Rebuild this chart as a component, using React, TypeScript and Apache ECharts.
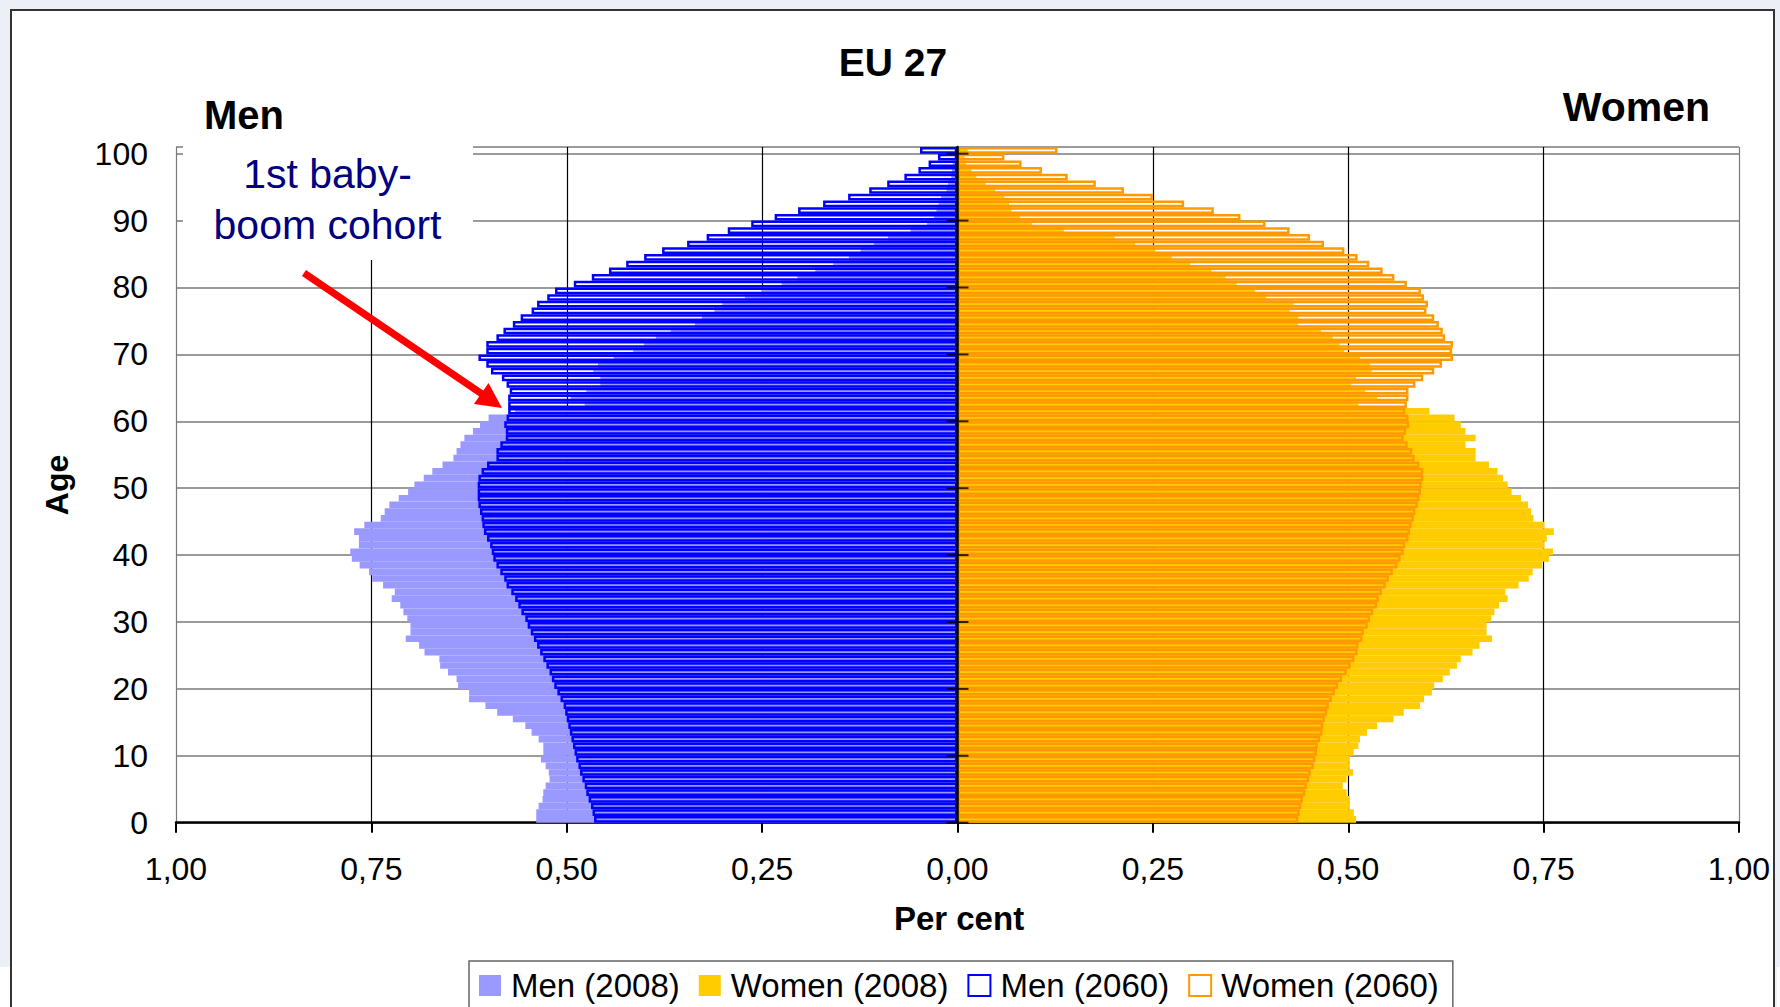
import React, { useEffect, useRef } from "react";
import * as echarts from "echarts";

// Age categories 0..100
const ages: string[] = Array.from({ length: 101 }, (_, i) => String(i));

// Share of total population (per cent), age 0 -> 100
const men2008: number[] = [
  0.539, 0.539, 0.536, 0.531, 0.530, 0.527, 0.522, 0.523, 0.527, 0.533,
  0.530, 0.530, 0.536, 0.545, 0.553, 0.569, 0.589, 0.604, 0.625, 0.625,
  0.639, 0.641, 0.652, 0.662, 0.663, 0.682, 0.689, 0.706, 0.700, 0.700,
  0.704, 0.709, 0.713, 0.724, 0.720, 0.735, 0.749, 0.753, 0.765, 0.775,
  0.777, 0.766, 0.766, 0.772, 0.759, 0.738, 0.733, 0.727, 0.715, 0.703,
  0.695, 0.683, 0.672, 0.659, 0.645, 0.641, 0.636, 0.631, 0.620, 0.611,
  0.600, 0.566, 0.477, 0.495, 0.475, 0.457, 0.457, 0.466, 0.460, 0.440,
  0.415, 0.401, 0.386, 0.367, 0.336, 0.327, 0.311, 0.301, 0.272, 0.251,
  0.225, 0.205, 0.182, 0.159, 0.139, 0.124, 0.107, 0.089, 0.060, 0.039,
  0.030, 0.027, 0.024, 0.021, 0.014, 0.012, 0.008, 0.007, 0.006, 0.004,
  0.004,
];

const women2008: number[] = [
  0.510, 0.507, 0.502, 0.502, 0.498, 0.493, 0.498, 0.506, 0.502, 0.502,
  0.507, 0.513, 0.515, 0.524, 0.537, 0.558, 0.571, 0.592, 0.597, 0.607,
  0.610, 0.621, 0.630, 0.639, 0.644, 0.659, 0.668, 0.684, 0.677, 0.677,
  0.683, 0.687, 0.693, 0.704, 0.701, 0.718, 0.731, 0.736, 0.748, 0.757,
  0.762, 0.751, 0.754, 0.763, 0.751, 0.737, 0.734, 0.730, 0.721, 0.709,
  0.704, 0.698, 0.691, 0.680, 0.663, 0.663, 0.650, 0.663, 0.650, 0.644,
  0.636, 0.604, 0.513, 0.537, 0.522, 0.504, 0.510, 0.530, 0.528, 0.515,
  0.495, 0.489, 0.480, 0.465, 0.436, 0.436, 0.425, 0.430, 0.395, 0.381,
  0.357, 0.343, 0.325, 0.298, 0.274, 0.253, 0.227, 0.201, 0.136, 0.095,
  0.080, 0.069, 0.066, 0.060, 0.048, 0.036, 0.024, 0.018, 0.011, 0.009,
  0.013,
];

const men2060: number[] = [
  0.465, 0.467, 0.469, 0.472, 0.475, 0.477, 0.480, 0.483, 0.485, 0.488,
  0.490, 0.492, 0.494, 0.496, 0.498, 0.500, 0.502, 0.504, 0.508, 0.512,
  0.516, 0.519, 0.522, 0.526, 0.530, 0.534, 0.538, 0.542, 0.546, 0.550,
  0.553, 0.558, 0.562, 0.566, 0.571, 0.577, 0.580, 0.585, 0.590, 0.594,
  0.596, 0.598, 0.602, 0.606, 0.608, 0.609, 0.611, 0.613, 0.614, 0.614,
  0.614, 0.613, 0.609, 0.602, 0.590, 0.590, 0.585, 0.578, 0.578, 0.580,
  0.577, 0.575, 0.575, 0.575, 0.573, 0.577, 0.583, 0.597, 0.603, 0.613,
  0.603, 0.603, 0.590, 0.581, 0.569, 0.559, 0.545, 0.538, 0.525, 0.515,
  0.491, 0.468, 0.446, 0.424, 0.401, 0.378, 0.346, 0.321, 0.294, 0.264,
  0.234, 0.204, 0.172, 0.140, 0.113, 0.090, 0.068, 0.050, 0.037, 0.025,
  0.048,
];

const women2060: number[] = [
  0.436, 0.438, 0.440, 0.442, 0.445, 0.447, 0.450, 0.452, 0.456, 0.458,
  0.460, 0.461, 0.464, 0.467, 0.468, 0.470, 0.473, 0.475, 0.479, 0.483,
  0.487, 0.492, 0.498, 0.503, 0.508, 0.512, 0.513, 0.518, 0.520, 0.525,
  0.528, 0.532, 0.537, 0.539, 0.543, 0.548, 0.552, 0.557, 0.563, 0.567,
  0.571, 0.573, 0.577, 0.579, 0.581, 0.584, 0.586, 0.589, 0.591, 0.593,
  0.594, 0.596, 0.596, 0.591, 0.585, 0.582, 0.576, 0.571, 0.574, 0.578,
  0.577, 0.573, 0.575, 0.577, 0.577, 0.586, 0.596, 0.610, 0.620, 0.634,
  0.633, 0.634, 0.624, 0.621, 0.616, 0.610, 0.600, 0.602, 0.597, 0.593,
  0.575, 0.559, 0.544, 0.527, 0.512, 0.495, 0.469, 0.451, 0.425, 0.394,
  0.362, 0.328, 0.290, 0.250, 0.213, 0.177, 0.141, 0.108, 0.082, 0.060,
  0.128,
];

const ageTicks: number[] = [0, 10, 20, 30, 40, 50, 60, 70, 80, 90, 100];
const legendNames: string[] = ["Men (2008)", "Women (2008)", "Men (2060)", "Women (2060)"];

const FONT = "'Liberation Sans', Arial, Helvetica, sans-serif";

export default function App() {
  const ref = useRef<HTMLDivElement>(null);

  useEffect(() => {
    document.body.style.margin = "0";
    document.body.style.overflow = "hidden";
    if (!ref.current) return;
    const chart = echarts.init(ref.current, undefined, { renderer: "svg" });

    const xGridColors = ["#7a7a7a", "#000", "#000", "#000", "#000", "#000", "#000", "#000", "#7a7a7a"];

    const option: any = {
      animation: false,
      backgroundColor: "transparent",
      textStyle: { fontFamily: FONT },
      grid: { left: 176, right: 41, top: 147, bottom: 184.3, containLabel: false },
      xAxis: {
        type: "value",
        min: -1,
        max: 1,
        interval: 0.25,
        axisLine: { onZero: false, lineStyle: { color: "#000", width: 2.5 } },
        axisTick: { show: true, length: 10, lineStyle: { color: "#000", width: 2 } },
        axisLabel: {
          margin: 30,
          fontSize: 32,
          color: "#000",
          fontFamily: FONT,
          formatter: (v: number) => Math.abs(v).toFixed(2).replace(".", ","),
        },
        splitLine: { show: true, lineStyle: { color: xGridColors, width: 1.2 } },
      },
      yAxis: [
        {
          type: "category",
          data: ages,
          position: "left",
          z: 10,
          axisLine: { show: true, onZero: true, lineStyle: { color: "#000", width: 2.5 } },
          axisTick: { show: false },
          axisLabel: { show: false },
          splitLine: { show: false },
        },
        {
          type: "value",
          min: 0,
          max: 101,
          interval: 10,
          position: "left",
          axisLine: { show: false, onZero: false },
          axisTick: { show: false },
          axisLabel: {
            margin: 28,
            fontSize: 32,
            color: "#000",
            fontFamily: FONT,
            formatter: (v: number) => (v % 10 === 0 && v <= 100 ? String(v) : ""),
          },
          splitLine: { show: true, lineStyle: { color: "#7a7a7a", width: 1.5 } },
        },
      ],
      legend: {
        data: legendNames,
        left: 469,
        top: 961,
        orient: "horizontal",
        icon: "rect",
        itemWidth: 22,
        itemHeight: 21,
        itemGap: 19,
        padding: [8, 14, 30, 10],
        borderColor: "#666",
        borderWidth: 1.5,
        backgroundColor: "#fff",
        selectedMode: false,
        textStyle: { fontSize: 33, color: "#000", fontFamily: FONT, lineHeight: 33, padding: [0, 0, 0, 5] },
      },
      series: [
        {
          name: legendNames[0],
          type: "bar",
          yAxisIndex: 0,
          data: men2008.map((v) => -v),
          itemStyle: { color: "#9999FF" },
          barGap: "-100%",
          barCategoryGap: "0%",
          silent: true,
        },
        {
          name: legendNames[1],
          type: "bar",
          yAxisIndex: 0,
          data: women2008,
          itemStyle: { color: "#FFCC00" },
          barGap: "-100%",
          barCategoryGap: "0%",
          silent: true,
        },
        {
          name: legendNames[2],
          type: "bar",
          yAxisIndex: 0,
          data: men2060.map((v) => -v),
          itemStyle: { color: "rgba(255,255,255,0)", borderColor: "#0000FF", borderWidth: 2.5 },
          barGap: "-100%",
          barCategoryGap: "0%",
          silent: true,
        },
        {
          name: legendNames[3],
          type: "bar",
          yAxisIndex: 0,
          data: women2060,
          itemStyle: { color: "rgba(255,255,255,0)", borderColor: "#FF9900", borderWidth: 2.5 },
          barGap: "-100%",
          barCategoryGap: "0%",
          silent: true,
        },
        {
          name: "ticks",
          type: "scatter",
          yAxisIndex: 1,
          data: ageTicks.map((a) => [0, a]),
          symbol: "rect",
          symbolSize: [22, 2],
          itemStyle: { color: "#000" },
          z: 20,
          silent: true,
        },
      ],
      graphic: [
        {
          type: "rect",
          z: 100,
          shape: { x: 183, y: 138, width: 290, height: 122 },
          style: { fill: "#fff" },
          silent: true,
        },
        {
          type: "text",
          z: 101,
          x: 327.5,
          y: 199,
          style: {
            text: "1st baby-\nboom cohort",
            fill: "#000080",
            fontSize: 41,
            lineHeight: 51,
            fontFamily: FONT,
            align: "center",
            verticalAlign: "middle",
          },
        },
        {
          type: "line",
          z: 101,
          shape: { x1: 304, y1: 273, x2: 482, y2: 394 },
          style: { stroke: "#FF0000", lineWidth: 7 },
        },
        {
          type: "polygon",
          z: 101,
          shape: { points: [[502, 408], [474, 404], [488.5, 383]] },
          style: { fill: "#FF0000" },
        },
        {
          type: "text",
          z: 101,
          x: 893,
          y: 62,
          style: { text: "EU 27", fill: "#000", fontSize: 39, fontWeight: "bold", fontFamily: FONT, align: "center", verticalAlign: "middle" },
        },
        {
          type: "text",
          z: 101,
          x: 204,
          y: 115,
          style: { text: "Men", fill: "#000", fontSize: 40, fontWeight: "bold", fontFamily: FONT, align: "left", verticalAlign: "middle" },
        },
        {
          type: "text",
          z: 101,
          x: 1710,
          y: 107,
          style: { text: "Women", fill: "#000", fontSize: 41, fontWeight: "bold", fontFamily: FONT, align: "right", verticalAlign: "middle" },
        },
        {
          type: "text",
          z: 101,
          x: 57,
          y: 485,
          rotation: Math.PI / 2,
          style: { text: "Age", fill: "#000", fontSize: 32, fontWeight: "bold", fontFamily: FONT, align: "center", verticalAlign: "middle" },
        },
        {
          type: "text",
          z: 101,
          x: 959,
          y: 918,
          style: { text: "Per cent", fill: "#000", fontSize: 33, fontWeight: "bold", fontFamily: FONT, align: "center", verticalAlign: "middle" },
        },
      ],
    };

    chart.setOption(option);
    return () => {
      chart.dispose();
    };
  }, []);

  return (
    <div style={{ position: "relative", width: 1780, height: 1007, background: "#eceff5", overflow: "hidden" }}>
      <div style={{ position: "absolute", left: 0, top: 967, width: 10, height: 40, background: "#fff" }} />
      <div style={{ position: "absolute", left: 1777, top: 967, width: 3, height: 40, background: "#fff" }} />
      <div
        style={{
          position: "absolute",
          left: 10,
          top: 9,
          width: 1765,
          height: 1010,
          background: "#fff",
          border: "2px solid #333",
          boxSizing: "border-box",
        }}
      />
      <div ref={ref} style={{ position: "absolute", left: 0, top: 0, width: 1780, height: 1007 }} />
    </div>
  );
}
